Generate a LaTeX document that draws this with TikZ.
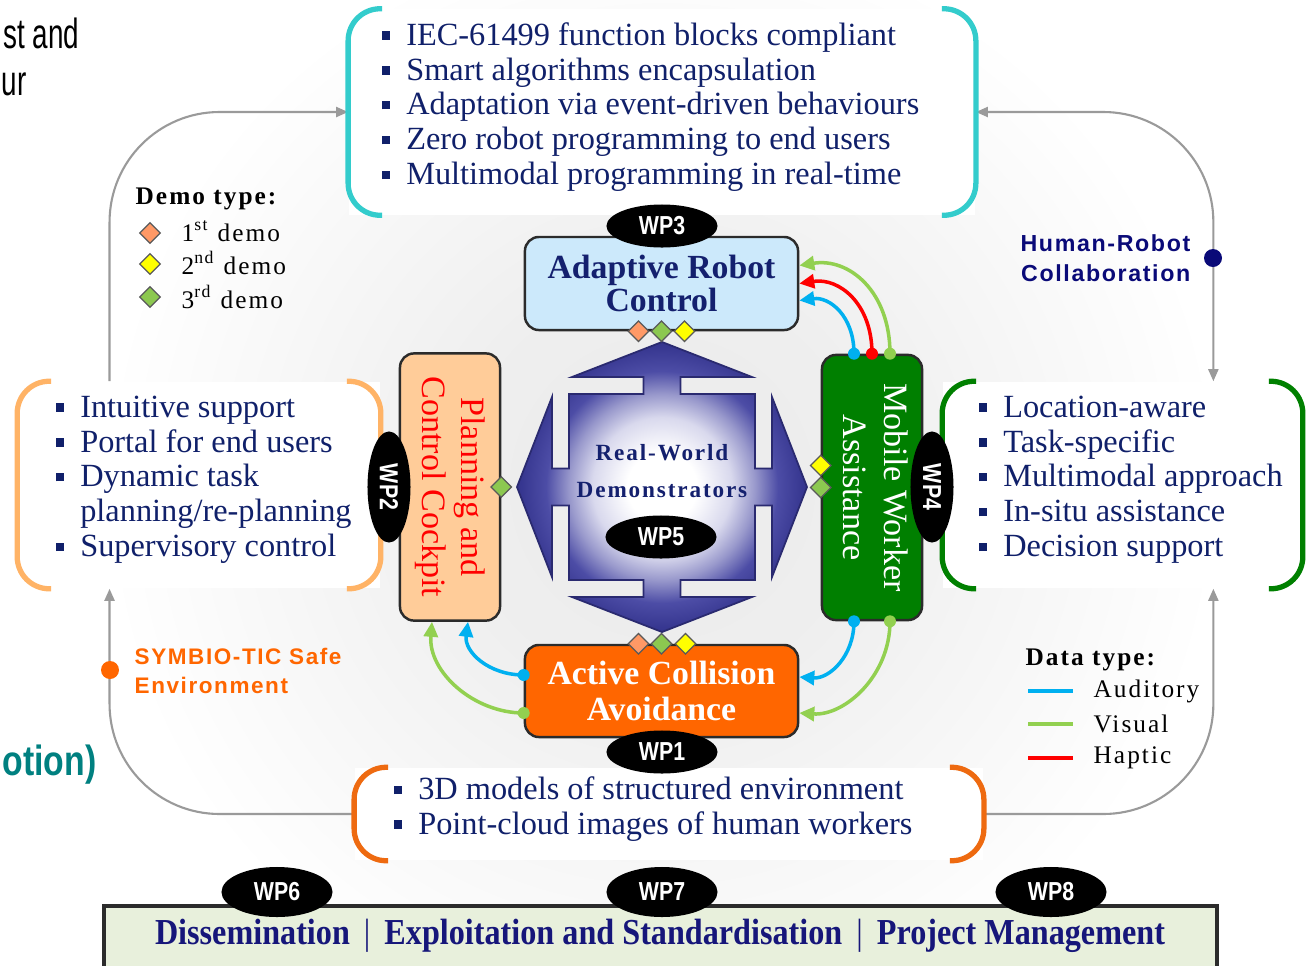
\documentclass[tikz,border=0pt]{standalone}
\usepackage{fontspec}
\setmainfont{Liberation Serif}
\setsansfont{Liberation Sans}
\newfontfamily\spacedserif[LetterSpace=8]{Liberation Serif}
\newfontfamily\spacedsans[LetterSpace=7]{Liberation Sans}
\newfontfamily\wpfont[FakeStretch=0.82]{Liberation Sans}
\newfontfamily\barfont[FakeStretch=0.88]{Liberation Serif}
\newfontfamily\slidefont[FakeStretch=0.66]{Liberation Sans}
\newfontfamily\slidefontb[FakeStretch=0.8]{Liberation Sans}
\usetikzlibrary{shapes.geometric, arrows.meta, calc}

\newcommand{\sqb}{\rule[0.17em]{0.26em}{0.26em}}

\pgfdeclareradialshading{backglow}{\pgfpoint{0bp}{0bp}}{rgb(0bp)=(0.92,0.92,0.92); rgb(9bp)=(0.935,0.935,0.935); rgb(25bp)=(1,1,1); rgb(50bp)=(1,1,1)}
\pgfdeclareradialshading{crossglow}{\pgfpoint{0bp}{0bp}}{rgb(0bp)=(1,1,1); rgb(6bp)=(1,1,1); rgb(12bp)=(0.85,0.85,0.93); rgb(16bp)=(0.6,0.6,0.8); rgb(20bp)=(0.3,0.3,0.65); rgb(25bp)=(0.2,0.2,0.55); rgb(50bp)=(0.2,0.2,0.55)}

\begin{document}
\begin{tikzpicture}[x=0.01cm, y=-0.01cm,
		modbox/.style={draw=boxline, line width=0.7pt, rounded corners=0.14cm, align=center, inner sep=0},
		wpmark/.style={ellipse, fill=black, text=white, inner sep=0, font=\wpfont\bfseries\fontsize{7.4}{8}\selectfont, minimum width=1.11cm, minimum height=0.43cm},
		brbox/.style={fill=white, inner sep=0},
		brline/.style={line width=1.5pt, rounded corners=0.32cm},
		brtext/.style={text=textnavy, font=\fontsize{9.2}{9.9}\selectfont, inner sep=0, anchor=west},
		demark/.style={diamond, draw=black!65, line width=0.35pt, inner sep=0, minimum size=0.21cm},
		flow/.style={line width=1pt, -{Triangle[length=0.15cm, width=0.14cm]}},
		loopline/.style={draw=loopgray, line width=0.6pt, rounded corners=1.1cm},
		looptip/.style={-{Triangle[length=0.12cm, width=0.1cm]}},
		legtext/.style={font=\spacedserif\fontsize{7.2}{8}\selectfont, inner sep=0, anchor=west},
	]
	\definecolor{textnavy}{HTML}{10206A}
	\definecolor{titlenavy}{HTML}{14206E}
	\definecolor{barnavy}{HTML}{16167A}
	\definecolor{boxline}{HTML}{2B2B2B}
	\definecolor{robotfill}{HTML}{CCE9FB}
	\definecolor{cockpitfill}{HTML}{FFCC99}
	\definecolor{workerfill}{HTML}{007F00}
	\definecolor{collisionfill}{HTML}{FF6600}
	\definecolor{cyanbrk}{HTML}{33CCCC}
	\definecolor{lorangebrk}{HTML}{FFB366}
	\definecolor{greenbrk}{HTML}{008000}
	\definecolor{orangebrk}{HTML}{EE6A10}
	\definecolor{audblue}{HTML}{00B0F0}
	\definecolor{visgreen}{HTML}{92D050}
	\definecolor{hapred}{HTML}{FF0000}
	\definecolor{dorange}{HTML}{FF9966}
	\definecolor{dyellow}{HTML}{FFFF00}
	\definecolor{dgreen}{HTML}{8CC850}
	\definecolor{hrcnavy}{HTML}{0A0A78}
	\definecolor{symorange}{HTML}{FF6600}
	\definecolor{barfill}{HTML}{E8F0DC}
	\definecolor{tealtext}{HTML}{008080}
	\definecolor{loopgray}{HTML}{9A9A9A}
	\definecolor{crossline}{HTML}{2A2A70}

	\useasboundingbox (0,0) rectangle (1311,966);
	\shade[shading=backglow] (662,487) circle (560);

	% pieces of the neighbouring slide text
	\node[font=\slidefont\fontsize{12}{13}\selectfont, anchor=base east, inner sep=0] (frag1) at (80,48) {st and};
	\node[font=\slidefont\fontsize{12}{13}\selectfont, anchor=base east, inner sep=0] (frag2) at (27,95) {ur};
	\node[font=\slidefontb\bfseries\fontsize{12}{13}\selectfont, text=tealtext, anchor=base east, inner sep=0] (frag3) at (97,775) {otion)};

	% bracket boxes
	\node[brbox, minimum width=6.26cm, minimum height=2.05cm] (topbox) at (662,112) {};
	\node[brbox, minimum width=3.62cm, minimum height=2.06cm] (leftbox) at (199,485) {};
	\node[brbox, minimum width=3.59cm, minimum height=2.06cm] (rightbox) at (1122.5,485) {};
	\node[brbox, minimum width=6.28cm, minimum height=0.92cm] (botbox) at (669,814) {};

	% outer loop
	\draw[loopline, looptip] ($(leftbox.north west)!0.254!(leftbox.north east)$) |- (topbox.west);
	\draw[loopline, {Triangle[length=0.12cm, width=0.1cm]}-{Triangle[length=0.12cm, width=0.1cm]}] (topbox.east) -| ($(rightbox.north west)!0.752!(rightbox.north east)$);
	\draw[loopline, looptip] (botbox.west) -| ($(leftbox.south west)!0.254!(leftbox.south east)$);
	\draw[loopline, looptip] (botbox.east) -| ($(rightbox.south west)!0.752!(rightbox.south east)$);
	\fill[hrcnavy] (1213,258) circle (9);
	\fill[symorange] (110,670) circle (9);

	\foreach \b/\c in {topbox/cyanbrk, leftbox/lorangebrk, rightbox/greenbrk, botbox/orangebrk} {
		\draw[brline, draw=\c] ($(\b.north west)+(34,0)$) -- (\b.north west) -- (\b.south west) -- ($(\b.south west)+(34,0)$);
		\draw[brline, draw=\c] ($(\b.north east)+(-34,0)$) -- (\b.north east) -- (\b.south east) -- ($(\b.south east)+(-34,0)$);
	}

	\node[brtext] (toptext) at (381,108) {\begin{tabular}{@{}l@{\hspace{4.6pt}}l@{}}
		\sqb & IEC-61499 function blocks compliant\\
		\sqb & Smart algorithms encapsulation\\
		\sqb & Adaptation via event-driven behaviours\\
		\sqb & Zero robot programming to end users\\
		\sqb & Multimodal programming in real-time
	\end{tabular}};
	\node[brtext] (lefttext) at (55,480) {\begin{tabular}{@{}l@{\hspace{4.6pt}}l@{}}
		\sqb & Intuitive support\\
		\sqb & Portal for end users\\
		\sqb & Dynamic task\\
		     & planning/re-planning\\
		\sqb & Supervisory control
	\end{tabular}};
	\node[brtext] (righttext) at (978,480) {\begin{tabular}{@{}l@{\hspace{4.6pt}}l@{}}
		\sqb & Location-aware\\
		\sqb & Task-specific\\
		\sqb & Multimodal approach\\
		\sqb & In-situ assistance\\
		\sqb & Decision support
	\end{tabular}};
	\node[brtext] (bottext) at (393,810) {\begin{tabular}{@{}l@{\hspace{4.6pt}}l@{}}
		\sqb & 3D models of structured environment\\
		\sqb & Point-cloud images of human workers
	\end{tabular}};

	% real-world demonstrators cross
	\begin{scope}[shift={(662,487)}]
		\shadedraw[shading=crossglow, draw=crossline, line width=0.5pt]
			(0,-145) -- (90,-110) -- (18.5,-110) -- (18.5,-93) -- (93,-93) -- (93,-18.5) -- (110,-18.5) -- (110,-90)
			-- (145,0) -- (110,90) -- (110,18.5) -- (93,18.5) -- (93,93) -- (18.5,93) -- (18.5,110) -- (90,110)
			-- (0,145) -- (-90,110) -- (-18.5,110) -- (-18.5,93) -- (-93,93) -- (-93,18.5) -- (-110,18.5) -- (-110,90)
			-- (-145,0) -- (-110,-90) -- (-110,-18.5) -- (-93,-18.5) -- (-93,-93) -- (-18.5,-93) -- (-18.5,-110) -- (-90,-110) -- cycle;
	\end{scope}
	\node[font=\spacedserif\bfseries\fontsize{6.6}{10.5}\selectfont, text=titlenavy, align=center, inner sep=0] (rwd) at (662,471) {Real-World\\Demonstrators};

	% work package modules
	\node[modbox, fill=robotfill, minimum width=2.73cm, minimum height=0.93cm, text=titlenavy, font=\bfseries\fontsize{9.6}{9.6}\selectfont] (adrobot) at (661.5,283.5) {Adaptive Robot\\Control};
	\node[modbox, fill=collisionfill, minimum width=2.73cm, minimum height=0.92cm, text=white, font=\bfseries\fontsize{9.6}{10.4}\selectfont] (collav) at (661.5,691) {Active Collision\\Avoidance};
	\node[modbox, fill=cockpitfill, minimum width=1cm, minimum height=2.67cm, text=red, font=\fontsize{9.7}{11}\selectfont] (cockpit) at (450,487) {\rotatebox{-90}{\begin{tabular}{@{}c@{}}Planning and\\Control Cockpit\end{tabular}}};
	\node[modbox, fill=workerfill, minimum width=1cm, minimum height=2.65cm, text=white, font=\fontsize{9.7}{11.5}\selectfont] (mobwork) at (872,487.5) {\rotatebox{-90}{\begin{tabular}{@{}c@{}}Mobile Worker\\Assistance\end{tabular}}};

	% demo markers
	\node[demark, fill=dorange] (dra) at ($(adrobot.south)+(-23,0)$) {};
	\node[demark, fill=dyellow] (drc) at ($(adrobot.south)+(23,0)$) {};
	\node[demark, fill=dgreen] (drb) at (adrobot.south) {};
	\node[demark, fill=dorange] (dca) at ($(collav.north)+(-23,0)$) {};
	\node[demark, fill=dyellow] (dcc) at ($(collav.north)+(24,0)$) {};
	\node[demark, fill=dgreen] (dcb) at (collav.north) {};
	\node[demark, fill=dgreen] (dpb) at (cockpit.east) {};
	\node[demark, fill=dyellow] (dmc) at ($(mobwork.west)+(0,-22)$) {};
	\node[demark, fill=dgreen] (dmb) at (mobwork.west) {};

	% data flows
	\draw[flow, audblue] ($(mobwork.north)+(-18,0)$) .. controls +(0,-38) and +(30,-4) .. ($(adrobot.east)+(0,17)$);
	\draw[flow, hapred] (mobwork.north) .. controls +(0,-50) and +(40,-6) .. (adrobot.east);
	\draw[flow, visgreen] ($(mobwork.north)+(18,0)$) .. controls +(0,-62) and +(50,-8) .. ($(adrobot.east)+(0,-18)$);
	\draw[flow, audblue] ($(mobwork.south)+(-18,0)$) .. controls +(0,35) and +(30,2) .. ($(collav.east)+(0,-14)$);
	\draw[flow, visgreen] ($(mobwork.south)+(18,0)$) .. controls +(0,55) and +(45,3) .. ($(collav.east)+(0,22)$);
	\draw[flow, audblue] ($(collav.west)+(0,-16)$) .. controls +(-35,0) and +(-4,30) .. ($(cockpit.south)+(18,0)$);
	\draw[flow, visgreen] ($(collav.west)+(0,22)$) .. controls +(-50,0) and +(-4,50) .. ($(cockpit.south)+(-18,0)$);
	\fill[audblue] ($(mobwork.north)+(-18,0)$) circle (6);
	\fill[hapred] (mobwork.north) circle (6);
	\fill[visgreen] ($(mobwork.north)+(18,0)$) circle (6);
	\fill[audblue] ($(mobwork.south)+(-18,0)$) circle (6);
	\fill[visgreen] ($(mobwork.south)+(18,0)$) circle (6);
	\fill[audblue] ($(collav.west)+(0,-16)$) circle (6);
	\fill[visgreen] ($(collav.west)+(0,22)$) circle (6);

	% WP labels
	\node[wpmark] (wp3) at (662,226) {WP3};
	\node[wpmark] (wp1) at (662,752) {WP1};
	\node[wpmark] (wp5) at (661,537) {WP5};
	\node[wpmark, rotate=-90] (wp2) at (389,487) {WP2};
	\node[wpmark, rotate=-90] (wp4) at (932,487) {WP4};

	% legends
	\node[legtext, font=\spacedserif\bfseries\fontsize{7.2}{8}\selectfont] (demohead) at (135,199) {Demo type:};
	\node[demark, fill=dorange] (leg1) at (150,233) {};
	\node[demark, fill=dyellow] (leg2) at (150,264) {};
	\node[demark, fill=dgreen] (leg3) at (150,297) {};
	\node[legtext] (demo1) at (181,231) {1\textsuperscript{st} demo};
	\node[legtext] (demo2) at (181,263) {2\textsuperscript{nd} demo};
	\node[legtext] (demo3) at (181,297) {3\textsuperscript{rd} demo};

	\node[legtext, font=\spacedserif\bfseries\fontsize{7.2}{8}\selectfont] (datahead) at (1025,660) {Data type:};
	\draw[line width=1pt, audblue] (1028,691) -- (1073,691);
	\draw[line width=1pt, visgreen] (1028,724) -- (1073,724);
	\draw[line width=1pt, hapred] (1028,758) -- (1073,758);
	\node[legtext] (dataaud) at (1093,691) {Auditory};
	\node[legtext] (datavis) at (1093,724) {Visual};
	\node[legtext] (datahap) at (1093,758) {Haptic};

	\node[font=\spacedsans\bfseries\fontsize{6.6}{8.5}\selectfont, text=hrcnavy, align=right, anchor=east, inner sep=0] (hrc) at (1191,258) {Human-Robot\\Collaboration};
	\node[font=\spacedsans\bfseries\fontsize{6.4}{8.5}\selectfont, text=symorange, align=left, anchor=west, inner sep=0] (sym) at (134,671) {SYMBIO-TIC Safe\\Environment};

	% management bar
	\draw[draw=boxline, line width=1pt, fill=barfill] (104,906) rectangle (1217,990);
	\node[font=\barfont\bfseries\fontsize{10.4}{12}\selectfont, text=barnavy, inner sep=0] (wpbar) at (660,936) {Dissemination\hspace{4pt}{\mdseries|}\hspace{4pt}Exploitation and Standardisation\hspace{4pt}{\mdseries|}\hspace{4pt}Project Management};
	\node[wpmark, minimum height=0.5cm] (wp6) at (277,892) {WP6};
	\node[wpmark, minimum height=0.5cm] (wp7) at (662,892) {WP7};
	\node[wpmark, minimum height=0.5cm] (wp8) at (1051,892) {WP8};
\end{tikzpicture}
\end{document}
